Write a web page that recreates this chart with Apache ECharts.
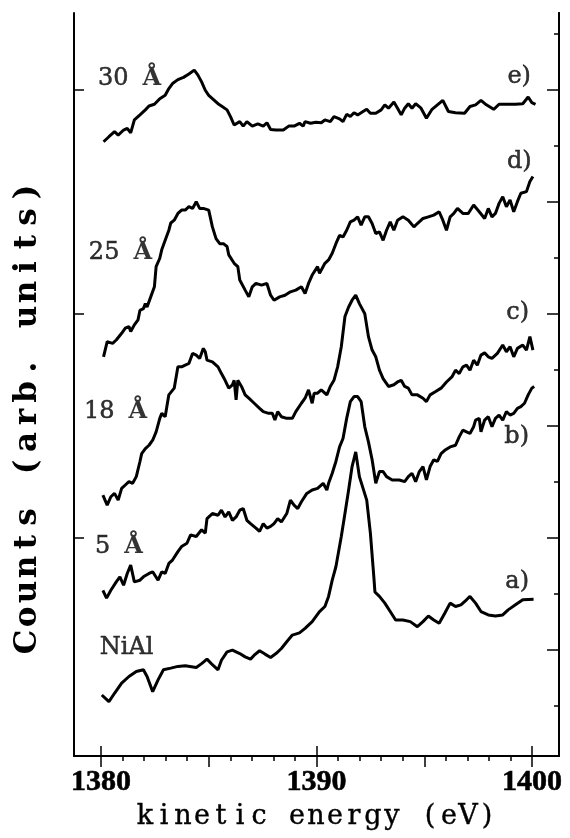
<!DOCTYPE html>
<html>
<head>
<meta charset="utf-8">
<script src="https://cdn.jsdelivr.net/npm/echarts@6/dist/echarts.min.js"></script>
<style>
  html, body { margin: 0; padding: 0; background: #fff; }
  #main { width: 570px; height: 838px; }
</style>
</head>
<body>
<div id="main"></div>
<script>
// spectra: [kinetic energy (eV), counts (arb. units, curves stacked with offsets)]
var curveA = [[1380.04,1.09],[1380.37,0.97],[1380.63,1.12],[1380.96,1.30],[1381.30,1.42],[1381.64,1.51],[1381.97,1.54],[1382.14,1.42],[1382.40,1.15],[1382.65,1.36],[1382.90,1.54],[1383.24,1.57],[1383.57,1.60],[1383.91,1.61],[1384.42,1.58],[1384.67,1.65],[1384.92,1.73],[1385.17,1.63],[1385.43,1.54],[1385.59,1.71],[1385.85,1.86],[1386.10,1.89],[1386.44,1.83],[1386.69,1.77],[1386.94,1.73],[1387.11,1.80],[1387.36,1.88],[1387.61,1.82],[1387.87,1.76],[1388.12,1.83],[1388.37,1.92],[1388.62,2.04],[1388.88,2.16],[1389.21,2.20],[1389.47,2.28],[1389.80,2.40],[1390.14,2.58],[1390.39,2.67],[1390.56,2.85],[1390.73,3.14],[1390.90,3.38],[1391.15,3.92],[1391.32,4.33],[1391.49,4.75],[1391.65,5.17],[1391.82,5.43],[1391.99,4.99],[1392.16,4.78],[1392.33,4.57],[1392.50,3.98],[1392.66,3.20],[1392.71,2.93],[1392.92,2.85],[1393.17,2.73],[1393.42,2.58],[1393.67,2.43],[1394.01,2.43],[1394.35,2.40],[1394.68,2.31],[1394.94,2.40],[1395.19,2.50],[1395.44,2.43],[1395.69,2.37],[1395.95,2.55],[1396.20,2.73],[1396.45,2.67],[1396.70,2.70],[1396.96,2.79],[1397.12,2.85],[1397.38,2.73],[1397.63,2.58],[1397.97,2.52],[1398.30,2.50],[1398.64,2.52],[1398.89,2.61],[1399.23,2.70],[1399.57,2.79],[1400.07,2.80]];

var curveB = [[1380.09,2.96],[1380.26,2.82],[1380.46,2.96],[1380.71,3.11],[1380.88,3.20],[1381.05,3.05],[1381.22,3.26],[1381.38,3.41],[1381.55,3.11],[1381.81,3.14],[1381.97,3.20],[1382.23,3.26],[1382.40,3.29],[1382.65,3.14],[1382.82,3.29],[1382.98,3.26],[1383.15,3.44],[1383.32,3.50],[1383.57,3.65],[1383.74,3.74],[1383.99,3.80],[1384.16,3.95],[1384.42,3.92],[1384.67,4.04],[1384.84,3.98],[1384.92,4.24],[1385.00,4.27],[1385.17,4.33],[1385.43,4.30],[1385.59,4.39],[1385.76,4.27],[1385.93,4.36],[1386.10,4.21],[1386.27,4.27],[1386.44,4.39],[1386.60,4.42],[1386.77,4.21],[1386.94,4.15],[1387.19,4.07],[1387.36,4.01],[1387.53,4.15],[1387.70,4.07],[1387.87,4.10],[1388.03,4.15],[1388.20,4.24],[1388.37,4.18],[1388.62,4.33],[1388.79,4.57],[1388.96,4.48],[1389.13,4.42],[1389.30,4.54],[1389.55,4.69],[1389.80,4.75],[1390.05,4.78],[1390.31,4.87],[1390.48,4.75],[1390.56,4.87],[1390.73,5.05],[1390.90,5.26],[1391.07,5.52],[1391.23,5.67],[1391.40,6.03],[1391.57,6.33],[1391.74,6.42],[1391.91,6.42],[1392.07,6.33],[1392.24,5.88],[1392.41,5.61],[1392.58,5.29],[1392.75,4.87],[1392.92,5.08],[1393.09,5.08],[1393.25,4.99],[1393.51,4.93],[1393.84,4.93],[1394.09,4.90],[1394.26,4.99],[1394.43,5.05],[1394.60,4.90],[1394.77,5.08],[1394.94,5.17],[1395.10,4.93],[1395.27,5.17],[1395.44,5.29],[1395.61,5.26],[1395.78,5.40],[1395.95,5.46],[1396.20,5.52],[1396.45,5.55],[1396.62,5.70],[1396.79,5.82],[1396.96,5.79],[1397.12,5.76],[1397.29,5.88],[1397.38,6.00],[1397.55,6.03],[1397.63,5.79],[1397.80,6.00],[1397.97,6.06],[1398.14,5.88],[1398.30,6.03],[1398.47,6.09],[1398.64,6.00],[1398.81,6.15],[1398.98,6.09],[1399.15,6.12],[1399.32,6.21],[1399.48,6.24],[1399.65,6.30],[1399.82,6.45],[1399.99,6.57],[1400.10,6.60]];

var curveC = [[1380.09,4.66],[1380.29,4.48],[1380.46,4.63],[1380.63,4.69],[1380.80,4.57],[1380.96,4.78],[1381.13,4.84],[1381.30,4.90],[1381.47,4.87],[1381.64,4.99],[1381.81,5.26],[1381.89,5.40],[1382.06,5.49],[1382.23,5.55],[1382.40,5.64],[1382.56,5.79],[1382.73,6.03],[1382.82,6.12],[1382.98,6.06],[1383.07,6.27],[1383.15,6.45],[1383.24,6.48],[1383.40,6.57],[1383.57,6.95],[1383.74,6.95],[1383.91,6.98],[1384.08,7.01],[1384.25,7.19],[1384.42,7.16],[1384.58,7.10],[1384.75,7.28],[1384.84,7.22],[1384.92,7.07],[1385.17,7.04],[1385.43,6.95],[1385.59,6.83],[1385.76,6.71],[1385.93,6.57],[1386.10,6.63],[1386.18,6.71],[1386.27,6.36],[1386.35,6.71],[1386.52,6.60],[1386.69,6.45],[1386.86,6.39],[1387.11,6.30],[1387.36,6.21],[1387.53,6.15],[1387.78,6.12],[1387.95,6.12],[1388.07,6.00],[1388.20,6.15],[1388.37,6.06],[1388.62,6.03],[1388.88,6.03],[1389.04,6.15],[1389.30,6.30],[1389.47,6.39],[1389.63,6.54],[1389.80,6.30],[1389.89,6.48],[1390.05,6.48],[1390.22,6.54],[1390.48,6.45],[1390.64,6.60],[1390.81,6.71],[1390.98,6.95],[1391.15,7.31],[1391.32,7.85],[1391.49,8.02],[1391.65,8.14],[1391.82,8.23],[1391.99,8.08],[1392.24,7.90],[1392.41,7.49],[1392.58,7.25],[1392.75,7.13],[1392.92,6.89],[1393.09,6.74],[1393.34,6.60],[1393.59,6.63],[1393.76,6.68],[1393.93,6.71],[1394.09,6.60],[1394.26,6.57],[1394.43,6.45],[1394.68,6.45],[1394.94,6.39],[1395.10,6.33],[1395.27,6.45],[1395.53,6.51],[1395.78,6.57],[1396.03,6.68],[1396.28,6.77],[1396.45,6.89],[1396.62,6.83],[1396.79,6.95],[1396.96,6.98],[1397.12,6.89],[1397.29,7.07],[1397.46,6.98],[1397.63,7.16],[1397.80,7.20],[1397.97,7.13],[1398.14,7.10],[1398.39,7.19],[1398.64,7.34],[1398.81,7.22],[1398.98,7.31],[1399.15,7.13],[1399.32,7.28],[1399.57,7.34],[1399.74,7.25],[1399.90,7.49],[1400.04,7.25]];

var curveD = [[1380.12,7.13],[1380.29,7.40],[1380.54,7.37],[1380.71,7.43],[1380.96,7.55],[1381.13,7.64],[1381.30,7.67],[1381.38,7.58],[1381.55,7.70],[1381.72,7.79],[1381.81,7.96],[1381.97,7.99],[1382.06,8.08],[1382.14,8.02],[1382.31,8.20],[1382.48,8.38],[1382.56,8.74],[1382.73,8.89],[1382.82,9.04],[1382.98,9.21],[1383.15,9.39],[1383.24,9.52],[1383.40,9.57],[1383.57,9.69],[1383.74,9.75],[1383.91,9.75],[1384.08,9.81],[1384.25,9.78],[1384.42,9.90],[1384.58,9.78],[1384.75,9.78],[1385.00,9.75],[1385.17,9.45],[1385.34,9.24],[1385.51,9.15],[1385.68,9.15],[1385.85,9.10],[1385.93,8.95],[1386.18,8.80],[1386.35,8.74],[1386.44,8.50],[1386.69,8.32],[1386.86,8.20],[1387.02,8.38],[1387.19,8.44],[1387.45,8.41],[1387.70,8.44],[1387.87,8.23],[1388.03,8.14],[1388.29,8.20],[1388.54,8.23],[1388.79,8.29],[1389.04,8.32],[1389.30,8.38],[1389.47,8.26],[1389.63,8.44],[1389.80,8.59],[1390.05,8.74],[1390.14,8.62],[1390.39,8.80],[1390.56,8.86],[1390.73,8.98],[1390.90,9.15],[1391.07,9.30],[1391.23,9.27],[1391.40,9.39],[1391.57,9.54],[1391.74,9.57],[1391.91,9.63],[1392.07,9.48],[1392.24,9.63],[1392.41,9.63],[1392.58,9.51],[1392.75,9.33],[1392.92,9.36],[1393.09,9.21],[1393.25,9.39],[1393.42,9.54],[1393.59,9.39],[1393.76,9.57],[1394.01,9.63],[1394.26,9.57],[1394.52,9.45],[1394.68,9.51],[1394.94,9.60],[1395.19,9.63],[1395.44,9.66],[1395.69,9.72],[1395.86,9.57],[1396.03,9.39],[1396.20,9.63],[1396.37,9.69],[1396.54,9.78],[1396.79,9.69],[1397.04,9.69],[1397.29,9.84],[1397.55,9.72],[1397.80,9.60],[1397.97,9.78],[1398.14,9.63],[1398.30,9.69],[1398.47,9.87],[1398.64,9.99],[1398.81,9.81],[1398.98,9.93],[1399.15,9.72],[1399.32,9.90],[1399.48,10.05],[1399.74,10.08],[1399.90,10.26],[1400.04,10.35]];

var curveE = [[1380.12,10.97],[1380.37,11.06],[1380.63,11.15],[1380.80,11.09],[1381.05,11.18],[1381.22,11.21],[1381.38,11.13],[1381.55,11.36],[1381.81,11.45],[1382.06,11.54],[1382.23,11.61],[1382.48,11.64],[1382.73,11.74],[1382.98,11.80],[1383.15,11.92],[1383.32,12.01],[1383.57,12.08],[1383.83,12.12],[1384.08,12.18],[1384.33,12.25],[1384.50,12.16],[1384.67,12.04],[1384.84,11.89],[1385.00,11.80],[1385.26,11.71],[1385.43,11.65],[1385.59,11.61],[1385.85,11.54],[1386.01,11.42],[1386.18,11.27],[1386.44,11.33],[1386.60,11.25],[1386.77,11.33],[1387.02,11.25],[1387.28,11.29],[1387.53,11.25],[1387.70,11.31],[1387.87,11.19],[1388.12,11.18],[1388.46,11.18],[1388.71,11.25],[1388.96,11.25],[1389.21,11.30],[1389.38,11.25],[1389.47,11.33],[1389.72,11.30],[1389.97,11.32],[1390.22,11.31],[1390.39,11.36],[1390.64,11.33],[1390.81,11.42],[1391.07,11.38],[1391.23,11.33],[1391.40,11.46],[1391.57,11.42],[1391.74,11.49],[1391.91,11.45],[1392.16,11.51],[1392.33,11.55],[1392.50,11.48],[1392.75,11.48],[1393.00,11.54],[1393.17,11.63],[1393.34,11.57],[1393.59,11.68],[1393.76,11.57],[1393.93,11.45],[1394.09,11.57],[1394.26,11.65],[1394.43,11.57],[1394.60,11.65],[1394.85,11.57],[1395.10,11.39],[1395.36,11.55],[1395.61,11.63],[1395.86,11.71],[1396.12,11.51],[1396.45,11.49],[1396.87,11.48],[1397.12,11.60],[1397.38,11.63],[1397.63,11.71],[1397.88,11.63],[1398.22,11.55],[1398.47,11.64],[1398.81,11.64],[1399.23,11.64],[1399.57,11.65],[1399.82,11.77],[1399.99,11.67],[1400.16,11.64]];

// tick positions
var bottomTicks = [1380, 1390, 1400];
var topMinorTicks = [1380, 1381, 1382, 1383, 1384, 1385, 1386, 1387, 1388, 1389, 1390, 1391, 1392, 1393, 1394, 1395, 1396, 1397, 1398, 1399, 1400];
var topMajorTicks = [1380, 1385, 1390, 1395, 1400];
var rightMinorTicks = [0.9, 1.9, 2.9, 3.9, 4.9, 5.9, 6.9, 7.9, 8.9, 9.9, 10.9, 11.9, 12.9];
var rightMajorTicks = [1.9, 3.9, 5.9, 7.9, 9.9, 11.9];
var leftTicks = [3.9, 7.9, 11.9];

// curve names (thickness) on the left, letters on the right
var leftNames = [['30 Å', 1379.86, 12.09], ['25 Å', 1379.44, 8.98], ['18 Å', 1379.21, 6.14], ['5 Å', 1379.72, 3.73], ['NiAl', 1379.95, 1.93]];
var rightNames = [['e)', 1399.95, 12.13], ['d)', 1399.98, 10.61], ['c)', 1399.86, 7.91], ['b)', 1399.86, 5.70], ['a)', 1399.86, 3.11]];

var SERIF = '"Liberation Serif", "DejaVu Serif", serif';
var HEAVY = '"DejaVu Serif", serif';

function spaced(str, key) {
  return str.split('').map(function (c) { return '{' + key + '|' + c + '}'; }).join('');
}

var chart = echarts.init(document.getElementById('main'), null, { renderer: 'canvas' });

var frameLine = { show: true, lineStyle: { color: '#000', width: 2 } };

function xAx(pos, ticks, len, labels) {
  return {
    type: 'value', position: pos, min: 1378.75, max: 1401.25,
    axisLine: frameLine,
    axisTick: { show: true, inside: true, length: len, customValues: ticks, lineStyle: { color: '#000', width: 1.5 } },
    axisLabel: labels ? {
      show: true, customValues: ticks, margin: 11, color: '#000',
      fontFamily: SERIF, fontWeight: 'bold', fontSize: 30,
      textBorderColor: '#000', textBorderWidth: 0.6,
      formatter: function (v) { return String(v); }
    } : { show: false },
    splitLine: { show: false }
  };
}

function yAx(pos, ticks, len) {
  return {
    type: 'value', position: pos, min: 0, max: 13.27,
    axisLine: frameLine,
    axisTick: { show: true, inside: true, length: len, customValues: ticks, lineStyle: { color: '#000', width: 1.5 } },
    axisLabel: { show: false },
    splitLine: { show: false }
  };
}

function curve(data) {
  return {
    type: 'line', data: data, xAxisIndex: 0, yAxisIndex: 0,
    showSymbol: false, symbol: 'none', silent: true,
    lineStyle: { color: '#000', width: 3 }
  };
}

function nameSeries(list, side) {
  return {
    type: 'scatter', xAxisIndex: 0, yAxisIndex: 0, symbolSize: 0, silent: true,
    data: list.map(function (d) { return { name: d[0], value: [d[1], d[2]] }; }),
    label: {
      show: true, position: side, distance: 0,
      formatter: function (p) {
        var parts = p.name.split(' ');
        return parts.length > 1 ? '{n|' + parts[0] + '}{b|Å}' : '{n|' + p.name + '}';
      },
      rich: {
        n: { fontFamily: HEAVY, fontSize: 24, color: '#000', textBorderColor: '#000', textBorderWidth: 0.5 },
        b: { fontFamily: HEAVY, fontWeight: 'bold', fontSize: 24, color: '#000', padding: [0, 0, 0, 14] }
      }
    }
  };
}

var option = {
  animation: false,
  backgroundColor: '#fff',
  grid: { left: 74, right: 11, top: 13, bottom: 82 },
  xAxis: [
    xAx('bottom', bottomTicks, 10, true),
    xAx('top', topMinorTicks, 5, false),
    xAx('top', topMajorTicks, 11, false)
  ],
  yAxis: [
    yAx('left', leftTicks, 10),
    yAx('right', rightMinorTicks, 5),
    yAx('right', rightMajorTicks, 12)
  ],
  series: [
    curve(curveA), curve(curveB), curve(curveC), curve(curveD), curve(curveE),
    nameSeries(leftNames, 'right'),
    nameSeries(rightNames, 'left')
  ],
  graphic: [
    {
      type: 'text', x: 316, y: 817,
      style: {
        text: spaced('kinetic energy (eV)', 'c'),
        textAlign: 'center', align: 'center', textVerticalAlign: 'middle', verticalAlign: 'middle',
        fill: '#000',
        rich: { c: { width: 19, align: 'center', fontFamily: HEAVY, fontSize: 27, fill: '#000', stroke: '#000', lineWidth: 0.4 } }
      }
    },
    {
      type: 'text', x: 28, y: 417, rotation: Math.PI / 2,
      style: {
        text: spaced('Counts (arb. units)', 'c'),
        textAlign: 'center', align: 'center', textVerticalAlign: 'middle', verticalAlign: 'middle',
        fill: '#000',
        rich: { c: { width: 25, align: 'center', fontFamily: HEAVY, fontWeight: 'bold', fontSize: 31, fill: '#000' } }
      }
    }
  ]
};

chart.setOption(option);
</script>
</body>
</html>
